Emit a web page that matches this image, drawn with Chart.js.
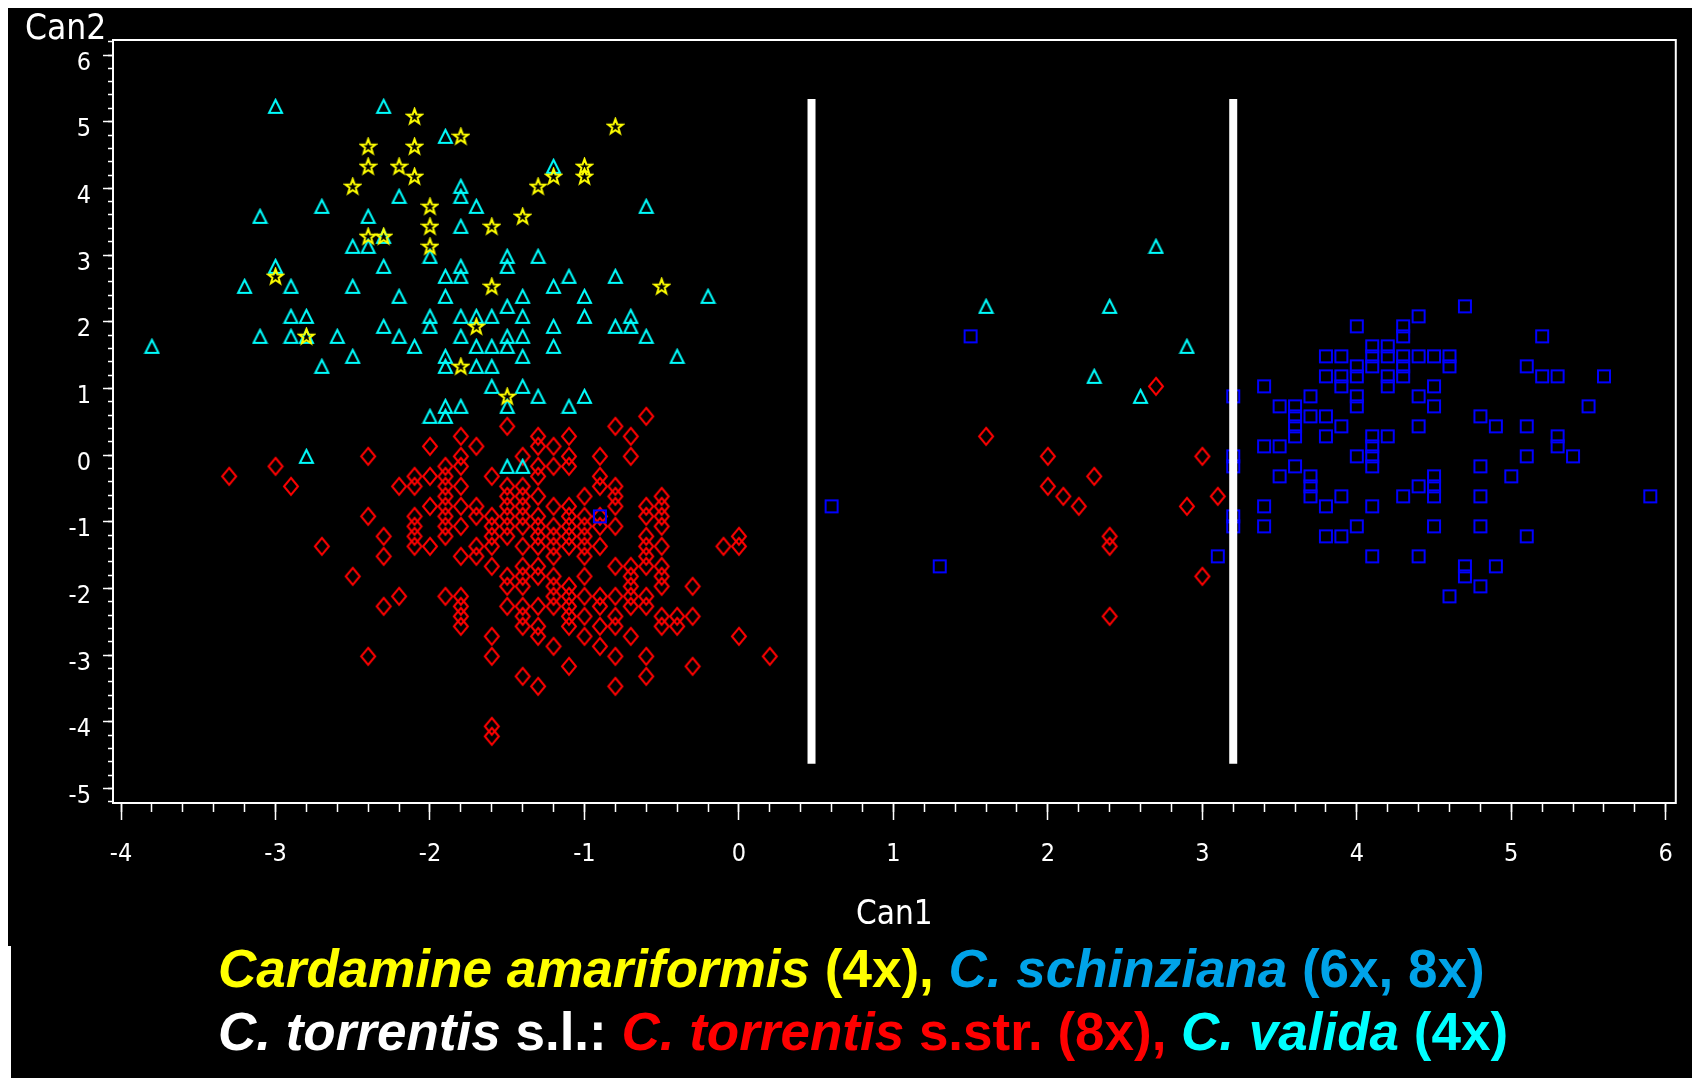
<!DOCTYPE html>
<html>
<head>
<meta charset="utf-8">
<script src="https://cdn.jsdelivr.net/npm/chart.js@4/dist/chart.umd.min.js"></script>
<style>
  html, body { margin: 0; padding: 0; background: #fff; width: 1692px; height: 1078px; overflow: hidden; }
  #plotPanel { position: absolute; left: 8px; top: 8px; width: 1684px; height: 938px; background: #000; }
  #textPanel { position: absolute; left: 11px; top: 946px; width: 1681px; height: 132px; background: #000; }
  #caption { position: absolute; left: 218px; top: 937px; font-family: 'Liberation Sans', Arial, sans-serif;
             font-weight: bold; font-size: 53px; line-height: 63px; white-space: nowrap; }
  #caption i { font-style: italic; }
  .yl { color: #ffff00; } .bl { color: #00a3e8; } .wh { color: #ffffff; } .rd { color: #ff0000; } .cy { color: #00ffff; }
</style>
</head>
<body>
<div id="plotPanel"><canvas id="plot" width="1684" height="938"></canvas></div>
<div id="textPanel"></div>
<div id="caption">
  <div><i class="yl">Cardamine amariformis</i><span class="yl"> (4x), </span><i class="bl">C. schinziana</i><span class="bl"> (6x, 8x)</span></div>
  <div><i class="wh">C. torrentis</i><span class="wh"> s.l.: </span><i class="rd">C. torrentis</i><span class="rd"> s.str. (8x), </span><i class="cy">C. valida</i><span class="cy"> (4x)</span></div>
</div>
<script>
'use strict';

/* Data: [Can1, Can2] pairs */

var amariformis = [
  [-2.1,5.08],[-1.8,4.78],[-2.4,4.63],[-2.1,4.63],[-2.4,4.33],[-2.2,4.33],[-2.1,4.18],[-2.5,4.03],
  [-2.0,3.73],[-2.0,3.43],[-1.6,3.43],[-1.4,3.58],[-2.4,3.28],[-2.3,3.28],[-2.0,3.13],[-3.0,2.68],
  [-1.6,2.53],[-1.7,1.93],[-2.8,1.78],[-1.8,1.33],[-1.5,0.88],[-0.8,4.93],[-1.0,4.33],[-1.0,4.18],
  [-1.2,4.18],[-1.3,4.03],[-0.5,2.53]
];

var valida = [
  [-3.0,5.23],[-2.3,5.23],[-1.9,4.78],[-1.8,4.03],[-1.8,3.88],[-2.2,3.88],[-1.7,3.73],[-2.7,3.73],
  [-3.1,3.58],[-2.4,3.58],[-1.8,3.43],[-2.3,3.28],[-2.5,3.13],[-2.4,3.13],[-2.0,2.98],[-1.5,2.98],
  [-1.5,2.83],[-3.0,2.83],[-2.3,2.83],[-1.8,2.83],[-1.8,2.68],[-1.9,2.68],[-3.2,2.53],[-2.9,2.53],
  [-2.5,2.53],[-2.2,2.38],[-1.9,2.38],[-1.5,2.23],[-2.9,2.08],[-2.8,2.08],[-2.0,2.08],[-2.0,1.93],
  [-1.8,2.08],[-1.7,2.08],[-1.6,2.08],[-2.3,1.93],[-3.1,1.78],[-2.9,1.78],[-2.8,1.78],[-2.6,1.78],
  [-2.2,1.78],[-1.8,1.78],[-1.5,1.78],[-1.5,1.63],[-3.8,1.63],[-2.1,1.63],[-1.7,1.63],[-1.6,1.63],
  [-2.5,1.48],[-1.9,1.48],[-1.9,1.33],[-2.7,1.33],[-1.7,1.33],[-1.6,1.33],[-1.6,1.03],[-1.5,0.73],
  [-1.9,0.73],[-1.9,0.58],[-1.8,0.73],[-2.0,0.58],[-2.8,-0.02],[-1.5,-0.17],
  [-1.2,4.33],[-0.6,3.73],[-1.3,2.98],[-1.1,2.68],[-0.8,2.68],[-1.2,2.53],[-1.4,2.38],[-1.0,2.38],
  [-0.2,2.38],[-1.4,2.08],[-1.0,2.08],[-0.7,2.08],[-0.7,1.93],[-1.2,1.93],[-0.8,1.93],[-1.4,1.78],
  [-0.6,1.78],[-1.2,1.63],[-1.4,1.48],[-0.4,1.48],[-1.4,1.03],[-1.3,0.88],[-1.0,0.88],[-1.1,0.73],
  [-1.4,-0.17],
  [2.7,3.13],[1.6,2.23],[2.4,2.23],[2.9,1.63],[2.3,1.18],[2.6,0.88]
];

var torrentisStr = [
  [-3.3,-0.32],[-3.0,-0.17],[-2.9,-0.47],[-2.7,-1.37],[-2.5,-1.82],[-2.4,-0.02],[-2.4,-0.92],[-2.4,-3.02],
  [-2.3,-1.22],[-2.3,-1.52],[-2.3,-2.27],[-2.2,-0.47],[-2.2,-2.12],
  [-2.1,-0.32],[-2.1,-0.47],[-2.1,-0.92],[-2.1,-1.07],[-2.1,-1.22],[-2.1,-1.37],
  [-2.0,0.13],[-2.0,-0.32],[-2.0,-0.77],[-2.0,-1.37],
  [-1.9,-0.17],[-1.9,-0.32],[-1.9,-0.47],[-1.9,-0.62],[-1.9,-0.77],[-1.9,-0.92],[-1.9,-1.07],[-1.9,-1.22],[-1.9,-2.12],
  [-1.8,0.28],[-1.8,-0.02],[-1.8,-0.17],[-1.8,-0.47],[-1.8,-0.77],[-1.8,-1.07],[-1.8,-1.52],[-1.8,-2.12],
  [-1.8,-2.27],[-1.8,-2.42],[-1.8,-2.57],
  [-1.7,0.13],[-1.7,-0.77],[-1.7,-0.92],[-1.7,-1.37],[-1.7,-1.52],
  [-1.6,-0.32],[-1.6,-0.92],[-1.6,-1.07],[-1.6,-1.22],[-1.6,-1.37],[-1.6,-1.67],[-1.6,-2.72],[-1.6,-3.02],
  [-1.6,-4.07],[-1.6,-4.22],
  [-1.5,0.43],[-1.5,-0.47],[-1.5,-0.62],[-1.5,-0.77],[-1.5,-0.92],[-1.5,-1.07],[-1.5,-1.22],[-1.5,-1.82],
  [-1.5,-1.97],[-1.5,-2.27],
  [-1.4,-0.02],[-1.4,-0.47],[-1.4,-0.62],[-1.4,-0.77],[-1.4,-0.92],[-1.4,-1.07],[-1.4,-1.37],[-1.4,-1.67],
  [-1.4,-1.82],[-1.4,-1.97],[-1.4,-2.27],[-1.4,-2.42],[-1.4,-2.57],[-1.4,-3.32],
  [-1.3,0.28],[-1.3,0.13],[-1.3,-0.17],[-1.3,-0.32],[-1.3,-0.62],[-1.3,-0.92],[-1.3,-1.07],[-1.3,-1.22],
  [-1.3,-1.37],[-1.3,-1.67],[-1.3,-1.82],[-1.3,-2.27],[-1.3,-2.57],[-1.3,-2.72],[-1.3,-3.47],
  [-1.2,0.13],[-1.2,-0.17],[-1.2,-0.77],[-1.2,-1.07],[-1.2,-1.22],[-1.2,-1.37],[-1.2,-1.52],[-1.2,-1.82],
  [-1.2,-1.97],[-1.2,-2.12],[-1.2,-2.27],[-1.2,-2.87],
  [-1.1,0.28],[-1.1,-0.02],[-1.1,-0.17],[-1.1,-0.77],[-1.1,-0.92],[-1.1,-1.07],[-1.1,-1.22],[-1.1,-1.37],
  [-1.1,-1.97],[-1.1,-2.12],[-1.1,-2.27],[-1.1,-2.42],[-1.1,-2.57],[-1.1,-3.17],
  [-1.0,-0.62],[-1.0,-0.92],[-1.0,-1.07],[-1.0,-1.22],[-1.0,-1.37],[-1.0,-1.52],[-1.0,-1.82],[-1.0,-2.12],
  [-1.0,-2.42],[-1.0,-2.72],
  [-0.9,-0.02],[-0.9,-0.32],[-0.9,-0.47],[-0.9,-0.92],[-0.9,-1.07],[-0.9,-1.37],[-0.9,-2.12],[-0.9,-2.27],
  [-0.9,-2.57],[-0.9,-2.87],
  [-0.8,0.43],[-0.8,-0.47],[-0.8,-0.62],[-0.8,-0.77],[-0.8,-1.07],[-0.8,-1.67],[-0.8,-2.12],[-0.8,-2.42],
  [-0.8,-2.57],[-0.8,-3.02],[-0.8,-3.47],
  [-0.7,0.28],[-0.7,-0.02],[-0.7,-1.67],[-0.7,-1.82],[-0.7,-1.97],[-0.7,-2.12],[-0.7,-2.27],[-0.7,-2.72],
  [-0.6,0.58],[-0.6,-0.77],[-0.6,-0.92],[-0.6,-1.22],[-0.6,-1.37],[-0.6,-1.52],[-0.6,-1.67],[-0.6,-2.12],
  [-0.6,-2.27],[-0.6,-3.02],[-0.6,-3.32],
  [-0.5,-0.62],[-0.5,-0.77],[-0.5,-0.92],[-0.5,-1.07],[-0.5,-1.37],[-0.5,-1.67],[-0.5,-1.82],[-0.5,-1.97],
  [-0.5,-2.42],[-0.5,-2.57],
  [-0.4,-2.42],[-0.4,-2.57],[-0.3,-1.97],[-0.3,-2.42],[-0.3,-3.17],[-0.1,-1.37],
  [0.0,-1.22],[0.0,-1.37],[0.0,-2.72],[0.2,-3.02],
  [2.7,1.03],[1.6,0.28],[2.0,-0.02],[2.0,-0.47],[2.1,-0.62],[2.2,-0.77],[2.3,-0.32],[2.4,-1.22],
  [2.4,-1.37],[2.4,-2.42],[3.0,-0.02],[2.9,-0.77],[3.1,-0.62],[3.0,-1.82]
];

var schinziana = [
  [-0.9,-0.92],[0.6,-0.77],[1.5,1.78],[1.3,-1.67],[3.1,-1.52],
  [3.2,0.88],[3.2,-0.02],[3.2,-0.17],[3.2,-0.92],[3.2,-1.07],
  [4.7,2.23],[4.4,2.08],[4.0,1.93],[4.3,1.93],[4.3,1.78],[5.2,1.78],[4.1,1.63],[4.2,1.63],
  [3.8,1.48],[3.9,1.48],[4.1,1.48],[4.2,1.48],[4.3,1.48],[4.4,1.48],[4.5,1.48],[4.6,1.48],
  [4.0,1.33],[4.1,1.33],[4.3,1.33],[4.6,1.33],[5.1,1.33],
  [3.8,1.18],[3.9,1.18],[4.0,1.18],[4.2,1.18],[4.3,1.18],[5.2,1.18],[5.3,1.18],[5.6,1.18],
  [3.4,1.03],[3.9,1.03],[4.2,1.03],[4.5,1.03],[3.7,0.88],[4.0,0.88],[4.4,0.88],
  [3.5,0.73],[3.6,0.73],[4.0,0.73],[4.5,0.73],[5.5,0.73],[3.6,0.58],[3.7,0.58],[3.8,0.58],[4.8,0.58],
  [3.6,0.43],[3.9,0.43],[4.4,0.43],[4.9,0.43],[5.1,0.43],[3.6,0.28],[3.8,0.28],[4.1,0.28],[4.2,0.28],[5.3,0.28],
  [3.4,0.13],[3.5,0.13],[4.1,0.13],[5.3,0.13],[4.0,-0.02],[4.1,-0.02],[5.1,-0.02],[5.4,-0.02],
  [3.6,-0.17],[4.1,-0.17],[4.8,-0.17],[3.5,-0.32],[3.7,-0.32],[4.5,-0.32],[5.0,-0.32],
  [3.7,-0.47],[4.4,-0.47],[4.5,-0.47],[3.7,-0.62],[3.9,-0.62],[4.3,-0.62],[4.5,-0.62],[4.8,-0.62],[5.9,-0.62],
  [3.4,-0.77],[3.8,-0.77],[4.1,-0.77],[3.4,-1.07],[4.0,-1.07],[4.5,-1.07],[4.8,-1.07],
  [3.8,-1.22],[3.9,-1.22],[5.1,-1.22],[4.1,-1.52],[4.4,-1.52],[4.7,-1.67],[4.9,-1.67],[4.7,-1.82],
  [4.8,-1.97],[4.6,-2.12]
];

// white separator bars
var dividerX = [0.47, 3.2];
var dividerY = [5.34, -4.63];

var xRange = [-4.052, 6.065];
var yRange = [-5.22, 6.225];

// narrow stroke font for the axis texts (condensed face if the system has one)
var axisFont = "'DejaVu Sans Condensed', 'Liberation Sans Narrow', 'DejaVu Sans', sans-serif";
var axisWeight = 'condensed';

// outlined marker symbols drawn once on small canvases
function makeMarker(w, h, color, path) {
  var c = document.createElement('canvas');
  c.width = w;
  c.height = h;
  var g = c.getContext('2d');
  g.strokeStyle = color;
  g.lineWidth = 2;
  g.beginPath();
  path(g);
  g.closePath();
  g.stroke();
  return c;
}

var triangle = makeMarker(17, 17, '#00ffff', function(g) {
  g.moveTo(8.5, 2); g.lineTo(15, 15); g.lineTo(2, 15);
});
var diamond = makeMarker(18, 21, '#ff0000', function(g) {
  g.moveTo(9, 2); g.lineTo(16, 10.5); g.lineTo(9, 19); g.lineTo(2, 10.5);
});
var square = makeMarker(16, 16, '#0000ff', function(g) {
  g.rect(2, 2, 12, 12);
});
var star = makeMarker(19, 19, '#ffff00', function(g) {
  for (var i = 0; i < 10; i++) {
    var r = i % 2 ? 3.2 : 7.8;
    var a = -Math.PI / 2 + i * Math.PI / 5;
    var px = 9.5 + r * Math.cos(a), py = 10 + r * Math.sin(a);
    if (i === 0) g.moveTo(px, py); else g.lineTo(px, py);
  }
});

function toPoints(arr) {
  return arr.map(function(p) { return {x: p[0], y: p[1]}; });
}

function scatterSet(label, arr, marker, order) {
  return {
    label: label,
    data: toPoints(arr),
    pointStyle: marker,
    pointRadius: 7,
    order: order
  };
}

var datasets = [
  scatterSet('C. amariformis', amariformis, star, 1),
  scatterSet('C. schinziana', schinziana, square, 2),
  scatterSet('C. valida', valida, triangle, 3),
  scatterSet('C. torrentis s.str.', torrentisStr, diamond, 4)
];

dividerX.forEach(function(x) {
  datasets.push({
    type: 'line',
    data: [{x: x, y: dividerY[0]}, {x: x, y: dividerY[1]}],
    showLine: true,
    borderColor: '#ffffff',
    borderWidth: 8,
    borderCapStyle: 'butt',
    pointRadius: 0,
    order: 0
  });
});

var framePlugin = {
  id: 'frame',
  beforeDatasetsDraw: function(chart) {
    var a = chart.chartArea, ctx = chart.ctx;
    ctx.save();
    ctx.strokeStyle = '#ffffff';
    ctx.lineWidth = 2;
    ctx.strokeRect(a.left, a.top, a.right - a.left, a.bottom - a.top);
    ctx.restore();
  }
};

function intLabel(v) {
  return Number.isInteger(v) ? String(v) : '';
}

var tickGrid = function(len) {
  return { drawOnChartArea: false, drawTicks: true, tickLength: len, color: '#ffffff', tickColor: '#ffffff', tickWidth: 1.5 };
};

new Chart(document.getElementById('plot').getContext('2d'), {
  type: 'scatter',
  data: { datasets: datasets },
  plugins: [framePlugin],
  options: {
    responsive: false,
    animation: false,
    events: [],
    layout: { padding: { left: 17, right: 11, top: 0, bottom: 0 } },
    plugins: {
      legend: { display: false },
      tooltip: { enabled: false },
      title: {
        display: true,
        text: 'Can2',
        align: 'start',
        color: '#ffffff',
        font: { family: axisFont, size: 35, weight: axisWeight, lineHeight: 0.6 },
        padding: { top: 11, bottom: 0 }
      }
    },
    scales: {
      x: {
        type: 'linear', position: 'bottom', weight: 1,
        min: xRange[0], max: xRange[1],
        border: { display: false },
        grid: tickGrid(17),
        ticks: { stepSize: 1, includeBounds: false, color: '#ffffff', padding: 19,
                 font: { family: axisFont, size: 25, weight: axisWeight }, callback: intLabel, maxRotation: 0 },
        title: { display: true, text: 'Can1', color: '#ffffff', padding: { top: 0, bottom: 11 },
                 font: { family: axisFont, size: 33, weight: axisWeight, lineHeight: 1.2 } },
        afterFit: function(s) { s.height = 143; }
      },
      xMinor: {
        type: 'linear', axis: 'x', position: 'bottom', weight: 0,
        min: xRange[0], max: xRange[1],
        border: { display: false },
        grid: tickGrid(9),
        ticks: { stepSize: 0.2, includeBounds: false, display: false },
        afterFit: function(s) { s.height = 0; }
      },
      y: {
        type: 'linear', position: 'left', weight: 1,
        min: yRange[0], max: yRange[1],
        border: { display: false },
        grid: tickGrid(10),
        ticks: { stepSize: 1, includeBounds: false, color: '#ffffff', padding: 12, labelOffset: 8,
                 font: { family: axisFont, size: 25, weight: axisWeight }, callback: intLabel },
        afterFit: function(s) { s.width = 88; }
      },
      yMinor: {
        type: 'linear', axis: 'y', position: 'left', weight: 0,
        min: yRange[0], max: yRange[1],
        border: { display: false },
        grid: tickGrid(5),
        ticks: { stepSize: 0.2, includeBounds: false, display: false },
        afterFit: function(s) { s.width = 0; }
      }
    }
  }
});
</script>
</body>
</html>
